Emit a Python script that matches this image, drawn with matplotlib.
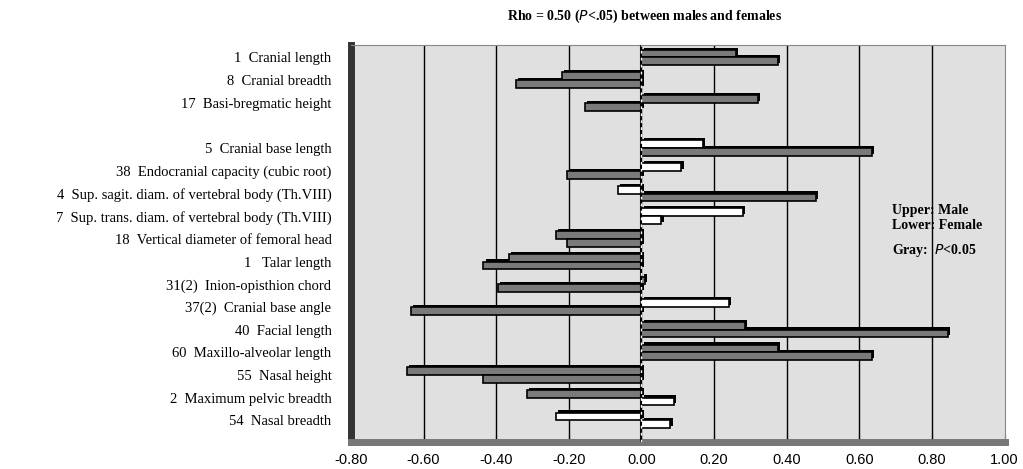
import numpy as np
import matplotlib.pyplot as plt

# categories, top to bottom ('' = empty gap row)
labels = ['1  Cranial length', '8  Cranial breadth', '17  Basi-bregmatic height', '',
          '5  Cranial base length', '38  Endocranial capacity (cubic root)',
          '4  Sup. sagit. diam. of vertebral body (Th.VIII)',
          '7  Sup. trans. diam. of vertebral body (Th.VIII)',
          '18  Vertical diameter of femoral head', '1   Talar length',
          '31(2)  Inion-opisthion chord', '37(2)  Cranial base angle',
          '40  Facial length', '60  Maxillo-alveolar length', '55  Nasal height',
          '2  Maximum pelvic breadth', '54  Nasal breadth']

male = [0.26, -0.22, 0.32, np.nan, 0.17, 0.11, -0.065, 0.28, -0.235, -0.365,
        0.01, 0.24, 0.285, 0.375, -0.645, -0.315, -0.235]
female = [0.375, -0.345, -0.155, np.nan, 0.635, -0.205, 0.48, 0.055, -0.205, -0.435,
          -0.395, -0.635, 0.845, 0.635, -0.435, 0.09, 0.08]
# significant (gray) or not (white)
male_sig = [1, 1, 1, 0, 0, 0, 0, 0, 1, 1, 1, 0, 1, 1, 1, 1, 0]
female_sig = [1, 1, 1, 0, 1, 1, 1, 0, 1, 1, 1, 1, 1, 1, 1, 0, 0]

ticks = np.arange(-0.8, 1.01, 0.2)

fig = plt.figure(figsize=(10.23, 4.69), dpi=100)
ax = fig.add_axes([0.343, 0.058, 0.639, 0.846])
ax.set_facecolor('#e0e0e0')

y = np.arange(len(labels))
h = 0.34
gray = '#7a7a7a'
mcol = [gray if s else 'white' for s in male_sig]
fcol = [gray if s else 'white' for s in female_sig]

# dark "3D" shadow behind each bar
ax.barh(y - h / 2 - 0.1, male, height=h, left=0.006, color='black', zorder=3)
ax.barh(y + h / 2 - 0.1, female, height=h, left=0.006, color='black', zorder=3)
ax.barh(y - h / 2, male, height=h, color=mcol, edgecolor='black', linewidth=1.2, zorder=4)
ax.barh(y + h / 2, female, height=h, color=fcol, edgecolor='black', linewidth=1.2, zorder=4)

for t in ticks[1:-1]:
    ax.axvline(t, color='black', lw=1, zorder=1)
ax.axvline(0, color='black', lw=1.5, zorder=5)
ax.axvline(0, color='white', lw=1, ls=(0, (2, 3)), zorder=6)

ax.set_xlim(-0.8, 1.0)
ax.set_ylim(16.95, -0.55)
ax.set_xticks(ticks)
ax.set_xticklabels(['%.2f' % t if abs(t) > 1e-9 else '0.00' for t in ticks],
                   fontsize=10.5, family='Liberation Sans')
ax.tick_params(axis='x', length=5, pad=8, direction='in')
ax.set_yticks(y)
ax.set_yticklabels(labels, fontsize=10.5, family='Liberation Serif')
ax.tick_params(axis='y', length=0, pad=14)

for s in ['top', 'right']:
    ax.spines[s].set_color('#888888')
ax.spines['left'].set_linewidth(5)
ax.spines['left'].set_color('#333333')
ax.spines['bottom'].set_linewidth(5)
ax.spines['bottom'].set_color('#777777')

fig.text(0.63, 0.965, 'Rho = 0.50 ($\\mathbf{\\mathit{P}}$<.05) between males and females',
         ha='center', va='center', fontsize=10, fontweight='bold', family='Liberation Serif')
fig.text(0.872, 0.535, 'Upper: Male\nLower: Female', ha='left', va='center',
         fontsize=10, fontweight='bold', family='Liberation Serif', linespacing=1.15)
fig.text(0.872, 0.465, 'Gray:  $\\mathbf{\\mathit{P}}$<0.05', ha='left', va='center',
         fontsize=10, fontweight='bold', family='Liberation Serif')

plt.savefig('out.png', dpi=100)
